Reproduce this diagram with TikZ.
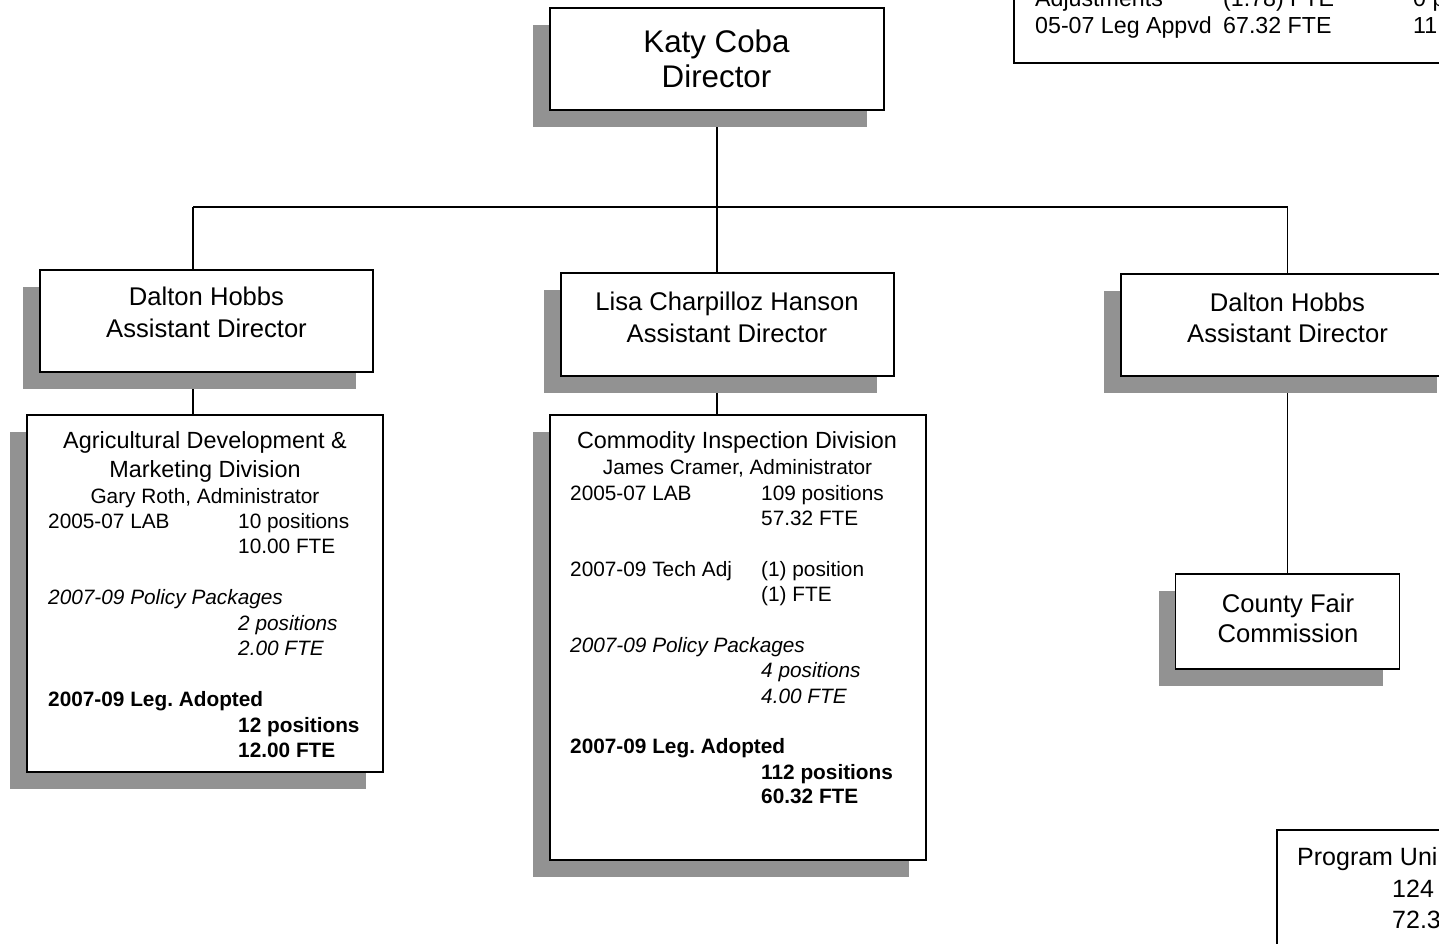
\documentclass[tikz,border=0pt]{standalone}
\usepackage{fontspec}
\setmainfont{Liberation Sans}
\usetikzlibrary{shadows,backgrounds}
\definecolor{shgray}{RGB}{146,146,146}
\frenchspacing
\tikzset{
  plainbox/.style={draw=black, line width=1.7pt, fill=white, inner sep=0pt, outer sep=0pt},
  box/.style={plainbox, general shadow={fill=shgray, shadow xshift=-17pt, shadow yshift=-17pt}},
  conn/.style={draw=black, line width=1.4pt},
  tdir/.style={font=\fontsize{31.3}{36}\selectfont, anchor=base, inner sep=0pt},
  tad/.style={font=\fontsize{25.6}{30}\selectfont, anchor=base, inner sep=0pt},
  ttitle/.style={font=\fontsize{23.4}{28}\selectfont, anchor=base, inner sep=0pt},
  tsub/.style={font=\fontsize{20.8}{25}\selectfont, anchor=base, inner sep=0pt},
  tdata/.style={font=\fontsize{20.8}{25}\selectfont, anchor=base west, inner sep=0pt},
  tdatai/.style={font=\fontsize{20.8}{25}\selectfont\itshape, anchor=base west, inner sep=0pt},
  tdatab/.style={font=\fontsize{20.8}{25}\selectfont\bfseries, anchor=base west, inner sep=0pt},
  ttr/.style={font=\fontsize{23.2}{27}\selectfont, anchor=base west, inner sep=0pt},
  tprog/.style={font=\fontsize{25}{30}\selectfont, anchor=base west, inner sep=0pt},
}
\begin{document}
\begin{tikzpicture}[x=1pt,y=-1pt]
\useasboundingbox (0,0) rectangle (1439,944);
\clip (0,0) rectangle (1439,944);

% top right box (cropped)
\node[plainbox, minimum width=456pt, minimum height=83pt] (tr) at (1242,21.5) {};
\node[ttr] (tr1a) at (1035,7) {Adjustments};
\node[ttr] (tr1b) at (1223,7) {(1.78) FTE};
\node[ttr] (tr1c) at (1413,7) {0 p};
\node[ttr] (tr2a) at (1035,34) {05-07 Leg Appvd};
\node[ttr] (tr2b) at (1223,34) {67.32 FTE};
\node[ttr] (tr2c) at (1413,34) {11};

% director
\node[box, minimum width=334pt, minimum height=102pt] (dir) at (717,59) {};
\node[tdir] (dirname) at (716.5,53) {Katy Coba};
\node[tdir] (dirtitle) at (716.5,88) {Director};

% assistant directors
\node[box, minimum width=333pt, minimum height=102pt] (ad1) at (206.5,321) {};
\node[tad] (ad1n) at (206.5,305) {Dalton Hobbs};
\node[tad] (ad1t) at (206.5,337) {Assistant Director};

\node[box, minimum width=333pt, minimum height=103pt] (ad2) at (727.5,324.5) {};
\node[tad] (ad2n) at (727,310) {Lisa Charpilloz Hanson};
\node[tad] (ad2t) at (727,342) {Assistant Director};

\node[box, minimum width=333pt, minimum height=102pt] (ad3) at (1287.5,325) {};
\node[tad] (ad3n) at (1287.5,311) {Dalton Hobbs};
\node[tad] (ad3t) at (1287.5,342) {Assistant Director};

% division 1
\node[box, minimum width=356pt, minimum height=357pt] (div1) at (205,593.5) {};
\node[ttitle] (d1a) at (205,448) {Agricultural Development \&};
\node[ttitle] (d1b) at (205,477) {Marketing Division};
\node[tsub] (d1c) at (205,503) {Gary Roth, Administrator};
\node[tdata] (d1l1) at (48,528) {2005-07 LAB};
\node[tdata] (d1r1) at (238,528) {10 positions};
\node[tdata] (d1r2) at (238,553) {10.00 FTE};
\node[tdatai] (d1l2) at (48,604) {2007-09 Policy Packages};
\node[tdatai] (d1r3) at (238,630) {2 positions};
\node[tdatai] (d1r4) at (238,655) {2.00 FTE};
\node[tdatab] (d1l3) at (48,706) {2007-09 Leg. Adopted};
\node[tdatab] (d1r5) at (238,732) {12 positions};
\node[tdatab] (d1r6) at (238,757) {12.00 FTE};

% division 2
\node[box, minimum width=376pt, minimum height=445pt] (div2) at (738,637.5) {};
\node[ttitle] (d2a) at (737,448) {Commodity Inspection Division};
\node[tsub] (d2b) at (737.5,474) {James Cramer, Administrator};
\node[tdata] (d2l1) at (570,500) {2005-07 LAB};
\node[tdata] (d2r1) at (761,500) {109 positions};
\node[tdata] (d2r2) at (761,525) {57.32 FTE};
\node[tdata] (d2l2) at (570,576) {2007-09 Tech Adj};
\node[tdata] (d2r3) at (761,576) {(1) position};
\node[tdata] (d2r4) at (761,601) {(1) FTE};
\node[tdatai] (d2l3) at (570,652) {2007-09 Policy Packages};
\node[tdatai] (d2r5) at (761,677) {4 positions};
\node[tdatai] (d2r6) at (761,703) {4.00 FTE};
\node[tdatab] (d2l4) at (570,753) {2007-09 Leg. Adopted};
\node[tdatab] (d2r7) at (761,779) {112 positions};
\node[tdatab] (d2r8) at (761,803) {60.32 FTE};

% county fair commission
\node[box, minimum width=224pt, minimum height=95pt] (cfc) at (1287.5,621.5) {};
\node[tad] (cfca) at (1288,612) {County Fair};
\node[tad] (cfcb) at (1288,642) {Commission};

% program unit box (cropped)
\node[plainbox, minimum width=193pt, minimum height=130pt] (prog) at (1373.5,895) {};
\node[tprog] (pr1) at (1297,865) {Program Uni};
\node[tprog] (pr2) at (1392,897) {124};
\node[tprog] (pr3) at (1392,928) {72.3};

% connectors
\begin{pgfonlayer}{background}
\coordinate (busL) at (193,207);
\coordinate (busR) at (1287.5,207);
\draw[conn] (busL) -- (busR);
\draw[conn] (dir.south) -- (dir.south |- ad2.north);
\draw[conn] (busL) -- (busL |- ad1.north);
\draw[conn] (busR) -- (ad3.north);
\draw[conn] (busL |- ad1.south) -- (busL |- div1.north);
\draw[conn] (dir.south |- ad2.south) -- (dir.south |- div2.north);
\draw[conn] (ad3.south) -- (cfc.north);
\end{pgfonlayer}
\end{tikzpicture}
\end{document}
